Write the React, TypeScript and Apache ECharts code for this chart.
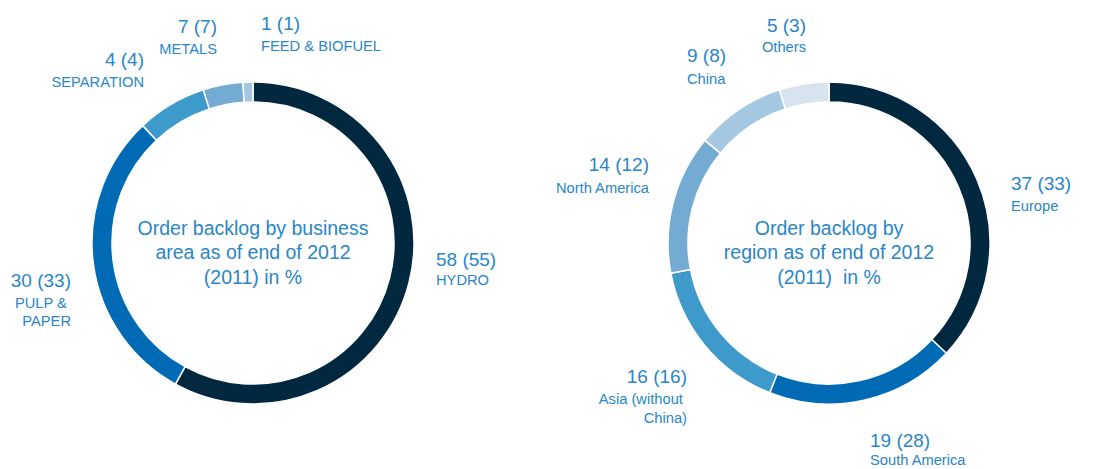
import React, { useEffect, useRef } from "react";
import * as echarts from "echarts";

// ---- Data ----
const businessNames = ["HYDRO", "PULP & PAPER", "METALS", "SEPARATION", "FEED & BIOFUEL"];
const business2012 = [58, 30, 7, 4, 1];
const business2011 = [55, 33, 7, 4, 1];
const businessLabelLines = [["HYDRO"], ["PULP & ", "PAPER"], ["METALS"], ["SEPARATION"], ["FEED & BIOFUEL"]];

const regionNames = ["Europe", "South America", "Asia (without China)", "North America", "China", "Others"];
const region2012 = [37, 19, 16, 14, 9, 5];
const region2011 = [33, 28, 16, 12, 8, 3];
const regionLabelLines = [["Europe"], ["South America"], ["Asia (without ", "China)"], ["North America"], ["China"], ["Others"]];

const businessTitle = "Order backlog by business\narea as of end of 2012\n(2011) in %";
const regionTitle = "Order backlog by\nregion as of end of 2012\n(2011)  in %";

// ---- Styles / layout ----
const businessColors = ["#02283f", "#006ab4", "#3d9acb", "#74abd3", "#a5c8e2"];
const regionColors = ["#02283f", "#006ab4", "#3d9acb", "#74abd3", "#a5c8e2", "#d7e4f0"];
const textColor = "#2a86c6";
const fontFamily = "'Liberation Sans', Arial, Helvetica, sans-serif";

const businessLabelLayout = [
  { x: 436, align: "left", numY: 259, nameY: [280] },
  { x: 71, align: "right", numY: 280, nameY: [303, 321] },
  { x: 217, align: "right", numY: 26, nameY: [49] },
  { x: 144, align: "right", numY: 59, nameY: [82] },
  { x: 261, align: "left", numY: 23, nameY: [46] },
];
const regionLabelLayout = [
  { x: 1011, align: "left", numY: 183, nameY: [206] },
  { x: 870, align: "left", numY: 440, nameY: [460] },
  { x: 687, align: "right", numY: 376, nameY: [399, 418] },
  { x: 649, align: "right", numY: 164, nameY: [188] },
  { x: 687, align: "left", numY: 55, nameY: [79] },
  { x: 806, align: "right", numY: 25, nameY: [47] },
];

function buildLabels(v2012: number[], v2011: number[], lines: string[][], layout: any[]) {
  const els: any[] = [];
  v2012.forEach((v, i) => {
    const l = layout[i];
    els.push({
      type: "text",
      x: l.x,
      y: l.numY,
      silent: true,
      style: {
        text: `${v} (${v2011[i]})`,
        fill: textColor,
        font: `19px ${fontFamily}`,
        textAlign: l.align,
        textVerticalAlign: "middle",
      },
    });
    lines[i].forEach((t, j) => {
      els.push({
        type: "text",
        x: l.x,
        y: l.nameY[j],
        silent: true,
        style: {
          text: t,
          fill: textColor,
          font: `14.7px ${fontFamily}`,
          textAlign: l.align,
          textVerticalAlign: "middle",
        },
      });
    });
  });
  return els;
}

export default function App() {
  const ref = useRef<HTMLDivElement>(null);
  useEffect(() => {
    if (!ref.current) return;
    const chart = echarts.init(ref.current, null, { renderer: "svg" });
    const pieBase = {
      type: "pie",
      radius: [141, 161],
      startAngle: 90,
      clockwise: true,
      avoidLabelOverlap: false,
      label: { show: false },
      labelLine: { show: false },
      emphasis: { disabled: true },
      silent: true,
      itemStyle: { borderColor: "#ffffff", borderWidth: 1.5 },
    };
    chart.setOption({
      animation: false,
      backgroundColor: "#ffffff",
      series: [
        {
          ...pieBase,
          center: [253, 243],
          data: businessNames.map((n, i) => ({
            name: n,
            value: business2012[i],
            itemStyle: { color: businessColors[i] },
          })),
        },
        {
          ...pieBase,
          center: [829, 243],
          data: regionNames.map((n, i) => ({
            name: n,
            value: region2012[i],
            itemStyle: { color: regionColors[i] },
          })),
        },
      ],
      graphic: [
        {
          type: "text",
          x: 253,
          y: 252,
          silent: true,
          style: {
            text: businessTitle,
            fill: textColor,
            font: `19.5px ${fontFamily}`,
            lineHeight: 24.5,
            textAlign: "center",
            textVerticalAlign: "middle",
          },
        },
        {
          type: "text",
          x: 829,
          y: 252,
          silent: true,
          style: {
            text: regionTitle,
            fill: textColor,
            font: `19.5px ${fontFamily}`,
            lineHeight: 24.5,
            textAlign: "center",
            textVerticalAlign: "middle",
          },
        },
        ...buildLabels(business2012, business2011, businessLabelLines, businessLabelLayout),
        ...buildLabels(region2012, region2011, regionLabelLines, regionLabelLayout),
      ],
    });
    return () => chart.dispose();
  }, []);
  return (
    <div
      ref={ref}
      style={{ position: "fixed", left: 0, top: 0, width: 1097, height: 469, background: "#fff" }}
    />
  );
}
